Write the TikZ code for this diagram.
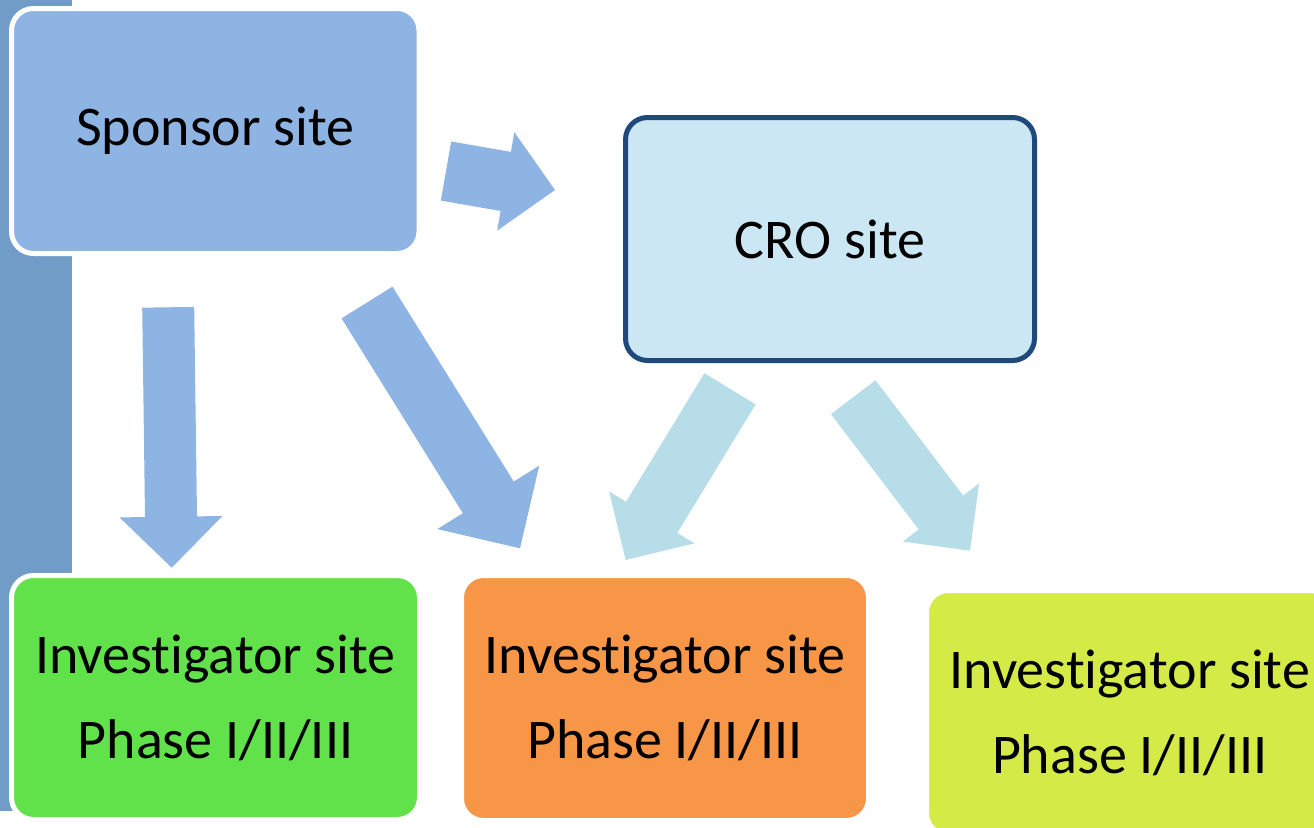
\documentclass[tikz,border=0pt]{standalone}
\usepackage{fontspec}
\setmainfont{Carlito}[Ligatures={NoCommon}]
\usetikzlibrary{calc}

\definecolor{barblue}{RGB}{114,156,200}
\definecolor{sponsorblue}{RGB}{142,180,227}
\definecolor{crofill}{RGB}{202,231,243}
\definecolor{croline}{RGB}{31,73,125}
\definecolor{croarrow}{RGB}{183,222,232}
\definecolor{sitegreen}{RGB}{98,226,74}
\definecolor{siteorange}{RGB}{247,150,70}
\definecolor{siteyellow}{RGB}{212,235,71}

% block arrow: #1 style, #2 tail, #3 tip, #4 shaft half-width, #5 head half-width, #6 head length
\newcommand\blockarrow[6]{%
  \coordinate (ba-h) at ($(#3)!#6!(#2)$);
  \fill[#1] ($(#2)!#4!90:(#3)$) -- ($(ba-h)!#4!90:(#3)$) -- ($(ba-h)!#5!90:(#3)$)
    -- (#3) -- ($(ba-h)!#5!-90:(#3)$) -- ($(ba-h)!#4!-90:(#3)$)
    -- ($(#2)!#4!-90:(#3)$) -- cycle;}

\tikzset{
  sitebox/.style={rectangle, rounded corners=22pt, draw=white, line width=5pt,
    inner sep=0pt, align=center, font=\fontsize{56}{85}\selectfont},
}

\begin{document}
\begin{tikzpicture}[x=1pt, y=-1pt]
\useasboundingbox (0,0) rectangle (1314,827);

% side bar
\fill[barblue] (0,0) rectangle (72,811);

% boxes
\node[sitebox, fill=sponsorblue, minimum width=407.5pt, minimum height=245pt]
  (sponsor) at (215.25,131) {Sponsor site};
\node[sitebox, draw=croline, fill=crofill, minimum width=409pt, minimum height=243pt]
  (cro) at (830,239) {CRO site};
\node[sitebox, fill=sitegreen, minimum width=408pt, minimum height=244pt]
  (inv1) at (215.5,697.5) {Investigator site\\Phase I/II/III};
\node[sitebox, fill=siteorange, minimum width=407pt, minimum height=245pt]
  (inv2) at (665,698) {Investigator site\\Phase I/II/III};
\node[sitebox, fill=siteyellow, minimum width=406.5pt, minimum height=244.5pt]
  (inv3) at (1129.75,712.75) {Investigator site\\Phase I/II/III};

% arrow end points
\coordinate (a1t) at (446,171);     \coordinate (a1h) at (555,190);
\coordinate (a2t) at (168.2,307.3); \coordinate (a2h) at (171.7,567.7);
\coordinate (a3t) at (367,302.5);   \coordinate (a3h) at (520,548.3);
\coordinate (a4t) at (730,388.8);   \coordinate (a4h) at (625.7,560);
\coordinate (a5t) at (853.2,397.2); \coordinate (a5h) at (970,550.7);

% arrows
\blockarrow{sponsorblue}{a1t}{a1h}{30pt}{50pt}{50pt}
\blockarrow{sponsorblue}{a2t}{a2h}{26pt}{51.5pt}{51pt}
\blockarrow{sponsorblue}{a3t}{a3h}{30pt}{60pt}{60pt}
\blockarrow{croarrow}{a4t}{a4h}{30pt}{50pt}{50pt}
\blockarrow{croarrow}{a5t}{a5h}{28pt}{48pt}{48pt}
\end{tikzpicture}
\end{document}
